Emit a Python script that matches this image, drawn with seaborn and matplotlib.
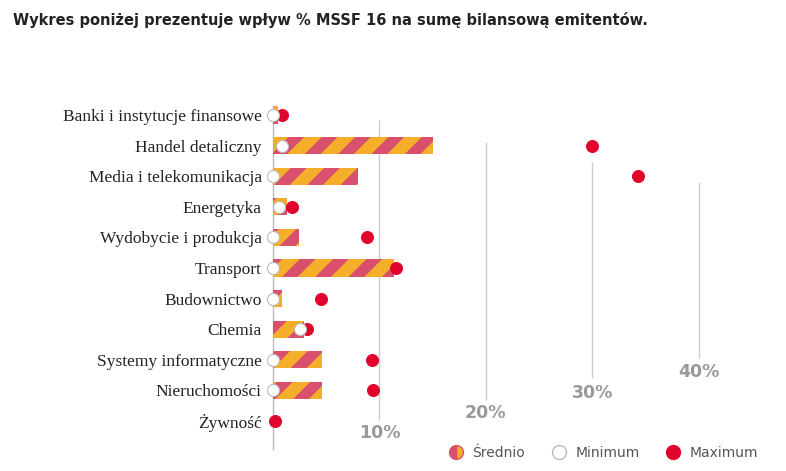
import pandas as pd
import numpy as np
import matplotlib
matplotlib.use("Agg")
import matplotlib.pyplot as plt
from matplotlib.lines import Line2D
import seaborn as sns

cats = ["Banki i instytucje finansowe", "Handel detaliczny", "Media i telekomunikacja",
        "Energetyka", "Wydobycie i produkcja", "Transport", "Budownictwo", "Chemia",
        "Systemy informatyczne", "Nieruchomości", "Żywność"]
srednio = [0.5, 15.0, 8.0, 1.3, 2.4, 11.4, 0.8, 2.9, 4.6, 4.6, 0.0]
minimum = [0.0, 0.8, 0.0, 0.6, 0.0, 0.0, 0.0, 2.5, 0.0, 0.0, np.nan]
maximum = [0.8, 30.0, 34.3, 1.8, 8.8, 11.6, 4.5, 3.2, 9.3, 9.4, 0.2]
ticks = [10, 20, 30, 40]

df = pd.DataFrame({"cat": cats, "avg": srednio, "min": minimum, "max": maximum})

ORANGE = "#f4ae2a"
PINK = "#d9506e"
RED = "#e0042c"
GRAY = "#999999"

sns.set_style("white")
plt.rcParams["hatch.linewidth"] = 8
plt.rcParams["hatch.color"] = PINK

fig = plt.figure(figsize=(7.86, 4.71), dpi=100)
ax = fig.add_axes([273 / 786, 0, 513 / 786, 371 / 471])

# gridlines with staggered ends (in row units) and labels
line_top = [0.16, 0.88, 1.54, 2.2]
line_bot = [9.98, 9.3, 8.6, 7.95]
lab_y = [10.4, 9.74, 9.08, 8.39]
for t, a, b, ly in zip(ticks, line_top, line_bot, lab_y):
    ax.vlines(t, a, b, color="#cccccc", lw=1, zorder=0)
    ax.text(t, ly, f"{t}%", ha="center", va="center", color=GRAY,
            fontsize=12.5, fontweight="bold", family="DejaVu Sans")
ax.vlines(0, -0.33, 10.95, color="#bbbbbb", lw=1, zorder=0, clip_on=False)

sns.barplot(data=df, x="avg", y="cat", orient="h", color=ORANGE, saturation=1,
            width=0.56, ax=ax, zorder=2)
for p in ax.patches:
    p.set_hatch("/")
    p.set_edgecolor(PINK)
    p.set_linewidth(0)

sns.scatterplot(data=df, x="min", y="cat", ax=ax, color="white", edgecolor="#bbbbbb",
                linewidth=0.8, s=75, zorder=4, clip_on=False, legend=False)
sns.scatterplot(data=df, x="max", y="cat", ax=ax, color=RED, edgecolor=RED,
                s=75, zorder=3, clip_on=False, legend=False)

ax.set_xlim(0, 48.2)
ax.set_ylim(11.63, -0.49)
ax.set_xlabel("")
ax.set_ylabel("")
ax.set_xticks([])
ax.tick_params(axis="y", length=0, pad=8)
for lab in ax.get_yticklabels():
    lab.set_family("Liberation Serif")
    lab.set_fontsize(12.5)
    lab.set_color("#222222")
sns.despine(ax=ax, left=True, bottom=True)

fig.text(13 / 786, 1 - 20 / 471, "Wykres poniżej prezentuje wpływ % MSSF 16 na sumę bilansową emitentów.",
         fontsize=10.5, fontweight="bold", va="center", color="#222222")

handles = [Line2D([], [], marker="o", ls="", markersize=10, markerfacecolor=PINK,
                  markerfacecoloralt=ORANGE, fillstyle="left", markeredgecolor=PINK),
           Line2D([], [], marker="o", ls="", markersize=10, markerfacecolor="white",
                  markeredgecolor="#bbbbbb"),
           Line2D([], [], marker="o", ls="", markersize=10, markerfacecolor=RED,
                  markeredgecolor=RED)]
fig.legend(handles, ["Średnio", "Minimum", "Maximum"], loc="center",
           bbox_to_anchor=(600 / 786, 1 - 453 / 471), ncol=3, frameon=False,
           fontsize=10, handletextpad=0.2, columnspacing=1.4,
           labelcolor="#555555")

fig.savefig("out.png", dpi=100)
